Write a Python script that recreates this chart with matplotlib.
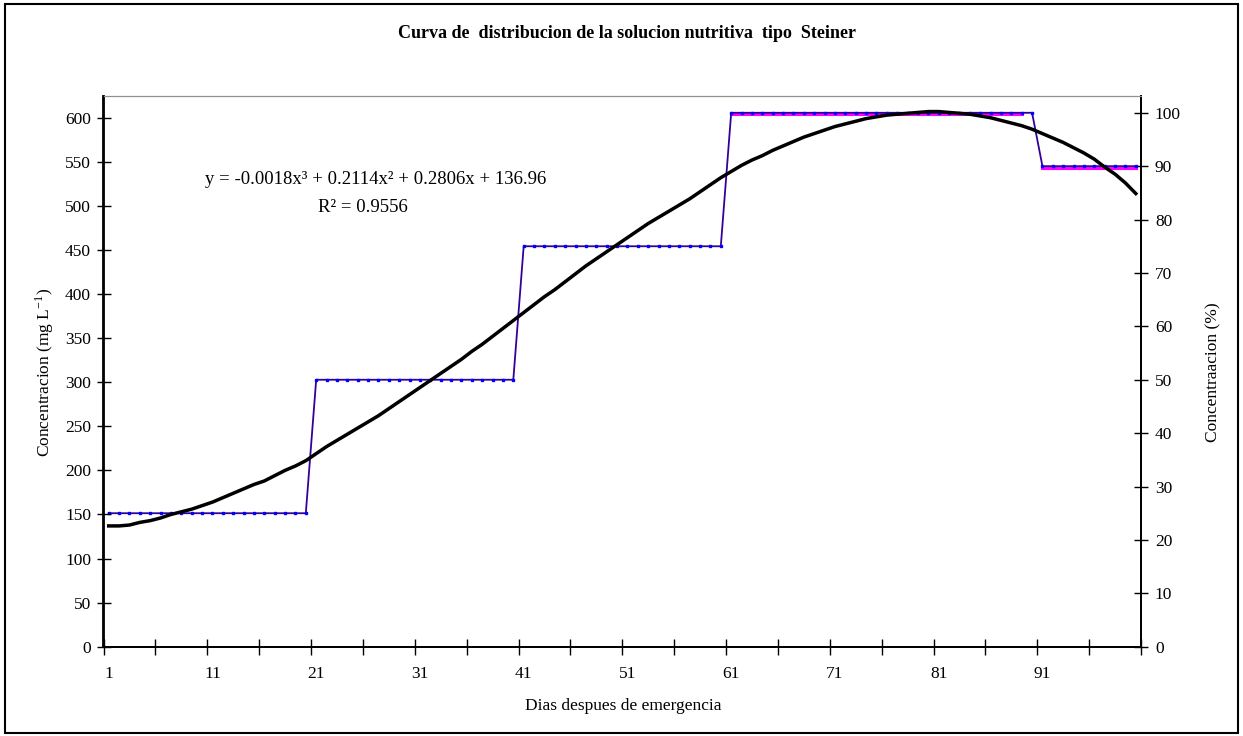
import matplotlib
matplotlib.use('Agg')
import matplotlib.pyplot as plt
import numpy as np
from matplotlib.patches import Rectangle

plt.rcParams['font.family'] = ['Liberation Serif', 'DejaVu Serif']
plt.rcParams['mathtext.fontset'] = 'stix'

# dias despues de emergencia
dias = np.arange(1, 101)

# concentracion (mg/L), curva negra
concentracion = [
    137, 137, 138, 141, 143, 146, 150, 153, 156, 160,
    164, 169, 174, 179, 184, 188, 194, 200, 205, 211,
    219, 227, 234, 241, 248, 255, 262, 270, 278, 286,
    294, 302, 310, 318, 326, 335, 343, 352, 361, 370,
    379, 388, 397, 405, 414, 423, 432, 440, 448, 456,
    464, 472, 480, 487, 494, 501, 508, 516, 524, 532,
    539, 546, 552, 557, 563, 568, 573, 578, 582, 586,
    590, 593, 596, 599, 601, 603, 604, 605, 606, 607,
    607, 606, 605, 604, 602, 600, 597, 594, 591, 587,
    582, 577, 572, 566, 560, 553, 544, 536, 526, 514,
]

# porcentaje de la solucion nutritiva (eje derecho)
porcentaje = [25] * 20 + [50] * 20 + [75] * 20 + [100] * 30 + [90] * 10

titulo = 'Curva de  distribucion de la solucion nutritiva  tipo  Steiner'
ecuacion = 'y = -0.0018x³ + 0.2114x² + 0.2806x + 136.96'
r2 = 'R² = 0.9556'

W, H = 1243, 736
fig = plt.figure(figsize=(W / 100, H / 100), dpi=100)
ax = fig.add_axes([103.5 / W, 1 - 646.7 / H, (1141 - 103.5) / W, (646.7 - 95.7) / H])
ax2 = ax.twinx()

pct = np.array(porcentaje, dtype=float)
magenta = np.where(dias > 60, pct, np.nan)
magenta[89] = np.nan  # corte entre 100 y 90
magenta2 = np.where(dias > 90, pct, np.nan)
ax2.plot(dias, magenta - 0.25, color='#ff00ff', lw=2.2, zorder=1)
ax2.plot(dias, magenta2 - 0.25, color='#ff00ff', lw=2.2, zorder=1)
ax2.plot(dias, pct, color='#330099', lw=1.3, marker='s', markersize=1.5,
         markerfacecolor='#0000ff', markeredgecolor='#0000ff', zorder=2)

ax.plot(dias, concentracion, color='black', lw=2.5, zorder=3)
ax.set_zorder(ax2.get_zorder() + 1)
ax.patch.set_visible(False)

ax.set_xlim(0.5, 100.5)
ax.set_ylim(0, 625)
ax2.set_ylim(0, 103.2)

ax.set_yticks(np.arange(0, 601, 50))
ax2.set_yticks(np.arange(0, 101, 10))
ax.set_xticks(np.arange(0.5, 101, 5))
ax.set_xticklabels([])
ax.set_xticks(np.arange(1, 100, 10), minor=True)
ax.set_xticklabels([str(d) for d in range(1, 100, 10)], minor=True)

ax.tick_params(axis='y', direction='inout', length=10, width=1, labelsize=12.5, pad=4)
ax2.tick_params(axis='y', direction='inout', length=10, width=1, labelsize=12.5, pad=5)
ax.tick_params(axis='x', which='major', direction='inout', length=11, width=1)
ax.tick_params(axis='x', which='minor', length=0, labelsize=12.5, pad=14)

for a in (ax, ax2):
    a.spines['top'].set_color('#909090')
    a.spines['top'].set_linewidth(0.8)
    a.spines['left'].set_linewidth(1.3)
    a.spines['bottom'].set_linewidth(1.3)
    a.spines['right'].set_linewidth(1.3)

fig.text(627 / W, 1 - 34 / H, titulo, ha='center', va='center', fontsize=13, fontweight='bold')
fig.text(376 / W, 1 - 180 / H, ecuacion, ha='center', va='center', fontsize=13.5)
fig.text(363 / W, 1 - 207 / H, r2, ha='center', va='center', fontsize=13.5)
fig.text(623 / W, 1 - 706 / H, 'Dias despues de emergencia', ha='center', va='center', fontsize=12.5)
fig.text(45 / W, 1 - 372 / H, 'Concentracion (mg L$^{\\mathdefault{-1}}$)', ha='center', va='center',
         rotation=90, fontsize=12.5)
fig.text(1213 / W, 1 - 372 / H, 'Concentraacion (%)', ha='center', va='center',
         rotation=90, fontsize=12.5)

fig.patches.append(Rectangle((5 / W, 3 / H), 1 - 10 / W, 1 - 7 / H, transform=fig.transFigure,
                             fill=False, edgecolor='black', lw=1.5))

fig.savefig('out.png', dpi=100)
